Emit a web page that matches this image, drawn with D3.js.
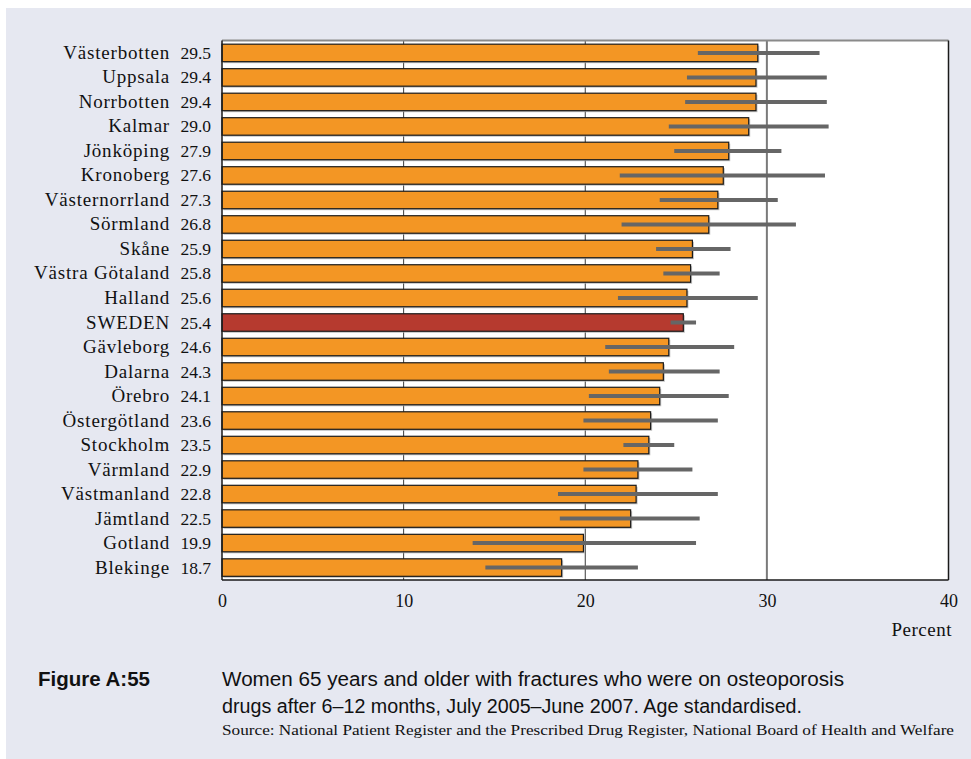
<!DOCTYPE html>
<html>
<head>
<meta charset="utf-8">
<script src="https://cdn.jsdelivr.net/npm/d3@7"></script>
<style>
  html, body { margin: 0; padding: 0; background: #ffffff; }
  svg { display: block; }
</style>
</head>
<body>
<svg id="chart" width="971" height="759"></svg>
<script>
// Counties, ranked by share of women treated (percent)
const regions = ["Västerbotten", "Uppsala", "Norrbotten", "Kalmar", "Jönköping", "Kronoberg",
  "Västernorrland", "Sörmland", "Skåne", "Västra Götaland", "Halland", "SWEDEN", "Gävleborg",
  "Dalarna", "Örebro", "Östergötland", "Stockholm", "Värmland", "Västmanland", "Jämtland",
  "Gotland", "Blekinge"];
const values = [29.5, 29.4, 29.4, 29.0, 27.9, 27.6, 27.3, 26.8, 25.9, 25.8, 25.6, 25.4, 24.6,
  24.3, 24.1, 23.6, 23.5, 22.9, 22.8, 22.5, 19.9, 18.7];
// 95% confidence interval bounds
const ciLow = [26.2, 25.6, 25.5, 24.6, 24.9, 21.9, 24.1, 22.0, 23.9, 24.3, 21.8, 24.7, 21.1,
  21.3, 20.2, 19.9, 22.1, 19.9, 18.5, 18.6, 13.8, 14.5];
const ciHigh = [32.9, 33.3, 33.3, 33.4, 30.8, 33.2, 30.6, 31.6, 28.0, 27.4, 29.5, 26.1, 28.2,
  27.4, 27.9, 27.3, 24.9, 25.9, 27.3, 26.3, 26.1, 22.9];
const xTicks = [0, 10, 20, 30, 40];

const rows = regions.map((name, i) => ({ name, value: values[i], lo: ciLow[i], hi: ciHigh[i] }));

const svg = d3.select("#chart");
const serif = "'Liberation Serif', 'DejaVu Serif', serif";
const sans = "'Liberation Sans', Arial, sans-serif";

// panel background
svg.append("rect").attr("x", 6).attr("y", 8).attr("width", 965).attr("height", 751)
  .attr("fill", "#e6e8f1");

const plot = { left: 222, right: 948.5, top: 40.5, bottom: 580 };

const x = d3.scaleLinear().domain([0, 40]).range([plot.left, plot.right]);
const y = d3.scaleBand().domain(regions).range([plot.top, plot.bottom])
  .paddingInner(0.286).paddingOuter(0.15);

// plot area
svg.append("rect").attr("x", plot.left).attr("y", plot.top)
  .attr("width", plot.right - plot.left).attr("height", plot.bottom - plot.top)
  .attr("fill", "#ffffff");

// vertical gridlines
svg.append("g").selectAll("line").data(xTicks.filter(t => t > 0 && t < 40)).join("line")
  .attr("x1", d => x(d)).attr("x2", d => x(d))
  .attr("y1", plot.top).attr("y2", plot.bottom)
  .attr("stroke", d => d === 30 ? "#7a7a7a" : "#3a3a3a")
  .attr("stroke-width", d => d === 30 ? 2 : 1);

// bar shadows
svg.append("g").selectAll("rect").data(rows).join("rect")
  .attr("x", x(0) + 1.5).attr("y", d => y(d.name) + 1.5)
  .attr("width", d => x(d.value) - x(0)).attr("height", y.bandwidth())
  .attr("fill", "#b0b0b0").attr("opacity", 0.8);

// bars
svg.append("g").selectAll("rect").data(rows).join("rect")
  .attr("x", x(0)).attr("y", d => y(d.name))
  .attr("width", d => x(d.value) - x(0)).attr("height", y.bandwidth())
  .attr("fill", d => d.name === "SWEDEN" ? "#b63a2f" : "#f39624")
  .attr("stroke", "#1a1a1a").attr("stroke-width", 1.2);

// confidence intervals
svg.append("g").selectAll("line").data(rows).join("line")
  .attr("x1", d => x(d.lo)).attr("x2", d => x(d.hi))
  .attr("y1", d => y(d.name) + y.bandwidth() / 2)
  .attr("y2", d => y(d.name) + y.bandwidth() / 2)
  .attr("stroke", "#666666").attr("stroke-width", 4);

// frame
svg.append("line").attr("x1", plot.left).attr("x2", plot.right)
  .attr("y1", plot.top).attr("y2", plot.top)
  .attr("stroke", "#8a8a8a").attr("stroke-width", 2);
svg.append("line").attr("x1", plot.left).attr("x2", plot.left)
  .attr("y1", plot.top).attr("y2", plot.bottom)
  .attr("stroke", "#1a1a1a").attr("stroke-width", 1.5);
svg.append("line").attr("x1", plot.right).attr("x2", plot.right)
  .attr("y1", plot.top).attr("y2", plot.bottom)
  .attr("stroke", "#1a1a1a").attr("stroke-width", 1.5);
svg.append("line").attr("x1", plot.left).attr("x2", plot.right)
  .attr("y1", plot.bottom).attr("y2", plot.bottom)
  .attr("stroke", "#1a1a1a").attr("stroke-width", 1.5);

// category and value labels
const labels = svg.append("g").attr("font-family", serif).attr("fill", "#111");
labels.selectAll("text.name").data(rows).join("text").attr("class", "name")
  .attr("x", 170).attr("y", d => y(d.name) + y.bandwidth() / 2 + 6)
  .attr("text-anchor", "end").attr("font-size", 19).attr("letter-spacing", 0.8)
  .text(d => d.name);
labels.selectAll("text.val").data(rows).join("text").attr("class", "val")
  .attr("x", 211).attr("y", d => y(d.name) + y.bandwidth() / 2 + 6)
  .attr("text-anchor", "end").attr("font-size", 17.5)
  .text(d => d.value.toFixed(1));

// x axis
const xAxis = svg.append("g").attr("transform", `translate(0,${plot.bottom})`)
  .call(d3.axisBottom(x).tickValues(xTicks).tickSize(0).tickPadding(14));
xAxis.select(".domain").remove();
xAxis.selectAll("text").attr("font-family", serif).attr("font-size", 18).attr("fill", "#111");

svg.append("text").attr("x", 952).attr("y", 636).attr("text-anchor", "end")
  .attr("font-family", serif).attr("font-size", 19).attr("letter-spacing", 0.5)
  .attr("fill", "#111").text("Percent");

// caption
svg.append("text").attr("x", 38).attr("y", 686)
  .attr("font-family", sans).attr("font-weight", "bold").attr("font-size", 20).attr("fill", "#111")
  .attr("textLength", 112).attr("lengthAdjust", "spacingAndGlyphs")
  .text("Figure A:55");
const cap = svg.append("g").attr("font-family", sans).attr("font-size", 20).attr("fill", "#111");
cap.append("text").attr("x", 222).attr("y", 686)
  .attr("textLength", 622).attr("lengthAdjust", "spacingAndGlyphs")
  .text("Women 65 years and older with fractures who were on osteoporosis");
cap.append("text").attr("x", 222).attr("y", 713)
  .attr("textLength", 580).attr("lengthAdjust", "spacingAndGlyphs")
  .text("drugs after 6–12 months, July 2005–June 2007. Age standardised.");
svg.append("text").attr("x", 222).attr("y", 735)
  .attr("font-family", serif).attr("font-size", 15).attr("fill", "#111")
  .attr("textLength", 732).attr("lengthAdjust", "spacingAndGlyphs")
  .text("Source: National Patient Register and the Prescribed Drug Register, National Board of Health and Welfare");
</script>
</body>
</html>
